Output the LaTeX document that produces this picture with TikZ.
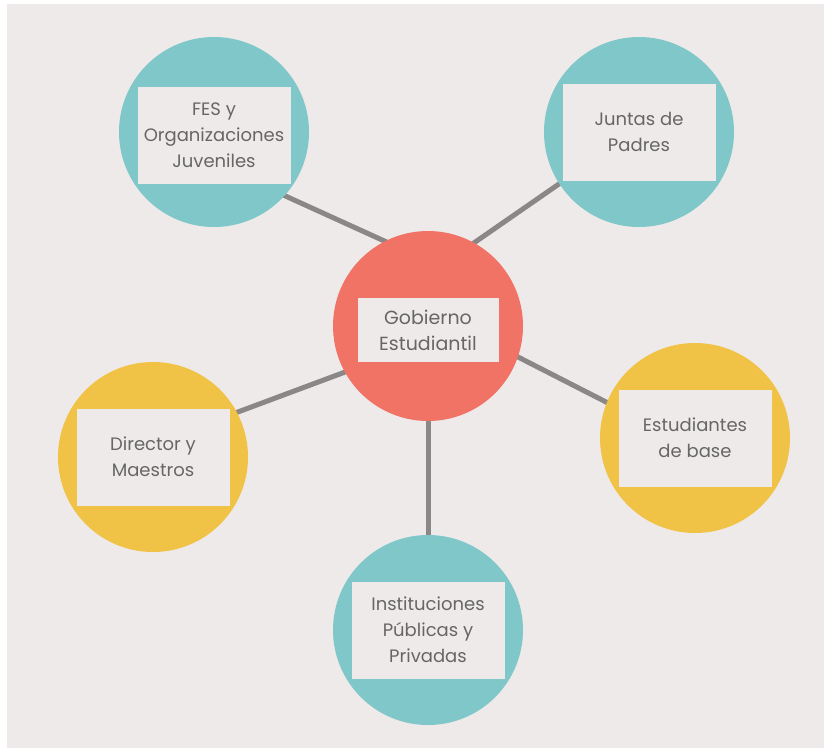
\documentclass[tikz,border=0pt]{standalone}
\usepackage{fontspec}
\setmainfont{Poppins}
\usetikzlibrary{backgrounds}
\definecolor{paper}{HTML}{EEEAE9}
\definecolor{hubred}{HTML}{F07365}
\definecolor{aqua}{HTML}{80C7C9}
\definecolor{mustard}{HTML}{F0C246}
\definecolor{linegray}{HTML}{8B8787}
\definecolor{ink}{HTML}{666666}
\begin{document}
\begin{tikzpicture}[x=1pt, y=-1pt]
    \tikzstyle{disc} = [circle, minimum size=190pt, inner sep=0pt]
    \tikzstyle{namebox} = [fill=paper, rectangle, minimum width=153pt,
    minimum height=97pt, align=center, text=ink,
    font=\fontsize{18}{26}\selectfont]
    \tikzstyle{hubbox} = [namebox, minimum width=141pt, minimum height=64pt,
    font=\fontsize{19}{26}\selectfont]
    \tikzstyle{link} = [draw=linegray, line width=5pt,
    shorten <=-4pt, shorten >=-4pt]
    \useasboundingbox (0,0) rectangle (824,748);
    % circles
    \node [disc, fill=hubred] (gob) at (428,326) {};
    \node [disc, fill=aqua] (fes) at (214,132) {};
    \node [disc, fill=aqua] (juntas) at (639,132) {};
    \node [disc, fill=mustard] (estud) at (695,438) {};
    \node [disc, fill=mustard] (director) at (153,457) {};
    \node [disc, fill=aqua] (inst) at (428,630) {};
    % boxes
    \node [hubbox] (gobtext) at ([yshift=-4pt]gob) {Gobierno\\Estudiantil};
    \node [namebox] (festext) at ([yshift=-3pt]fes) {FES y\\Organizaciones\\Juveniles};
    \node [namebox] (juntastext) at (juntas) {Juntas de\\Padres};
    \node [namebox] (estudtext) at (estud) {Estudiantes\\de base};
    \node [namebox] (directortext) at (director) {Director y\\Maestros};
    \node [namebox] (insttext) at (inst) {Instituciones\\Públicas y\\Privadas};
    \begin{scope}[on background layer]
        \fill [paper] (7,4) rectangle (824,748);
        \draw [link] (fes.-42) -- (gob.117);
        \draw [link] (juntas.-147) -- (gob.61);
        \draw [link] (estud.158) -- (gob.-19);
        \draw [link] (director.28) -- (gob.-151);
        \draw [link] (inst.north) -- (gob.south);
    \end{scope}
\end{tikzpicture}
\end{document}
